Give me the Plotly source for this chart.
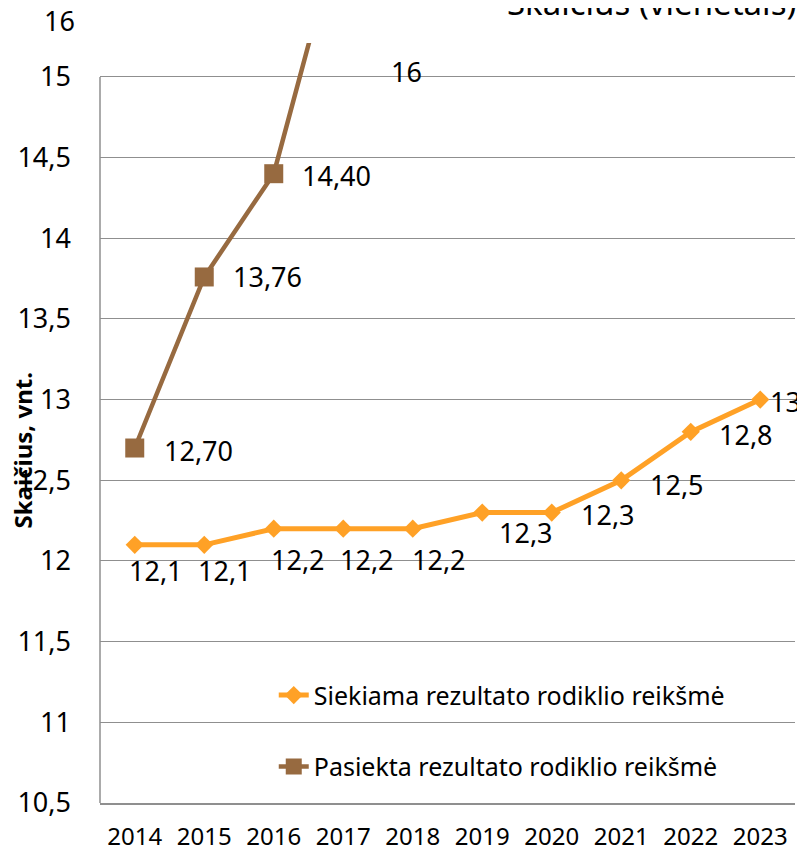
import plotly.graph_objects as go

years = ["2014", "2015", "2016", "2017", "2018", "2019", "2020", "2021", "2022", "2023"]
target = [12.1, 12.1, 12.2, 12.2, 12.2, 12.3, 12.3, 12.5, 12.8, 13.0]
target_labels = ["12,1", "12,1", "12,2", "12,2", "12,2", "12,3", "12,3", "12,5", "12,8", "13"]
achieved_years = ["2014", "2015", "2016", "2017"]
achieved = [12.70, 13.76, 14.40, 16.0]
achieved_labels = ["12,70", "13,76", "14,40", "16"]
ytick_vals = [10.5, 11, 11.5, 12, 12.5, 13, 13.5, 14, 14.5, 15]
ytick_text = ["10,5", "11", "11,5", "12", "12,5", "13", "13,5", "14", "14,5", "15"]
axis_top_label = "16"
name_target = "Siekiama rezultato rodiklio reikšmė"
name_achieved = "Pasiekta rezultato rodiklio reikšmė"
title_text = "Skaičius (vienetais)"
ytitle_text = "Skaičius, vnt."

ORANGE = "#FFA126"
BROWN = "#976A40"
GRID = "#8f8f8f"
FONT = "Noto Sans"
YMIN, YMAX = 10.5, 15.21
GRID_TOP = ytick_vals[-1]

fig = go.Figure()
fig.add_trace(go.Scatter(
    x=years, y=target, name=name_target, mode="lines+markers",
    line=dict(color=ORANGE, width=5),
    marker=dict(symbol="diamond", size=14, color=ORANGE),
    legendgroup="a",
))
fig.add_trace(go.Scatter(
    x=achieved_years, y=achieved, name=name_achieved, mode="lines+markers",
    line=dict(color=BROWN, width=4.5),
    marker=dict(symbol="square", size=19, color=BROWN),
    legendgroup="b",
))

annotations = []
# offsets (left edge dx, dy) for target labels
t_off = [(-8, -26), (-8, -26), (-5, -31), (-5, -31), (-3, -31),
         (15, -20), (27, -2), (27, -4), (26, -3), (8, -2)]
for yr, v, lab, (dx, dy) in zip(years, target, target_labels, t_off):
    annotations.append(dict(x=years.index(yr), y=v, text=lab, showarrow=False, xanchor="left",
                            yanchor="middle", xshift=dx, yshift=dy,
                            font=dict(family=FONT, size=27, color="#000")))
a_off = [(27, -2), (27, 0), (26, -2), (46, 5)]
for yr, v, lab, (dx, dy) in zip(achieved_years, achieved, achieved_labels, a_off):
    annotations.append(dict(x=years.index(yr), y=min(v, GRID_TOP), text=lab, showarrow=False,
                            xanchor="left", yanchor="middle", xshift=dx, yshift=dy,
                            font=dict(family=FONT, size=27, color="#000")))

annotations.append(dict(xref="paper", yref="paper", x=-0.033, y=1.030, text=axis_top_label,
                        showarrow=False, xanchor="right", yanchor="middle",
                        font=dict(family=FONT, size=27, color="#000")))
annotations.append(dict(xref="paper", yref="paper", x=-0.112, y=0.464, text="<b>" + ytitle_text + "</b>",
                        showarrow=False, textangle=-90, xanchor="center", yanchor="middle",
                        font=dict(family=FONT, size=24, color="#000")))
annotations.append(dict(xref="paper", yref="paper", x=1.004, y=1.021, text=title_text,
                        showarrow=False, xanchor="right", yanchor="bottom",
                        font=dict(family=FONT, size=33, color="#000")))

# page body has an 8px default margin, so the figure is sized to fit the window
fig.update_layout(
    template="none",
    width=797, height=846,
    margin=dict(l=92, r=10, t=35, b=51, autoexpand=False),
    paper_bgcolor="white", plot_bgcolor="white",
    font=dict(family=FONT, color="#000"),
    showlegend=True,
    legend=dict(x=0.25, y=0.172, xanchor="left", yanchor="top",
                bgcolor="rgba(0,0,0,0)", traceorder="grouped", tracegroupgap=36,
                font=dict(family=FONT, size=25, color="#000")),
    annotations=annotations,
    shapes=[dict(type="line", xref="paper", yref="y", x0=0, x1=0, y0=YMIN, y1=GRID_TOP,
                 line=dict(color=GRID, width=1.5))],
)
fig.update_xaxes(type="category", categoryorder="array", categoryarray=years,
                 range=[-0.5, len(years) - 0.5], automargin=False,
                 showgrid=False, showline=True, linecolor=GRID, linewidth=1.5,
                 ticks="", ticklabelstandoff=11, zeroline=False,
                 tickfont=dict(family=FONT, size=24, color="#000"))
fig.update_yaxes(range=[YMIN, YMAX], tickvals=ytick_vals, ticktext=ytick_text,
                 automargin=False,
                 showgrid=True, gridcolor=GRID, gridwidth=1.3, zeroline=False,
                 showline=False, ticks="", ticklabelstandoff=28,
                 tickfont=dict(family=FONT, size=27, color="#000"))

fig.write_html("out.html")
